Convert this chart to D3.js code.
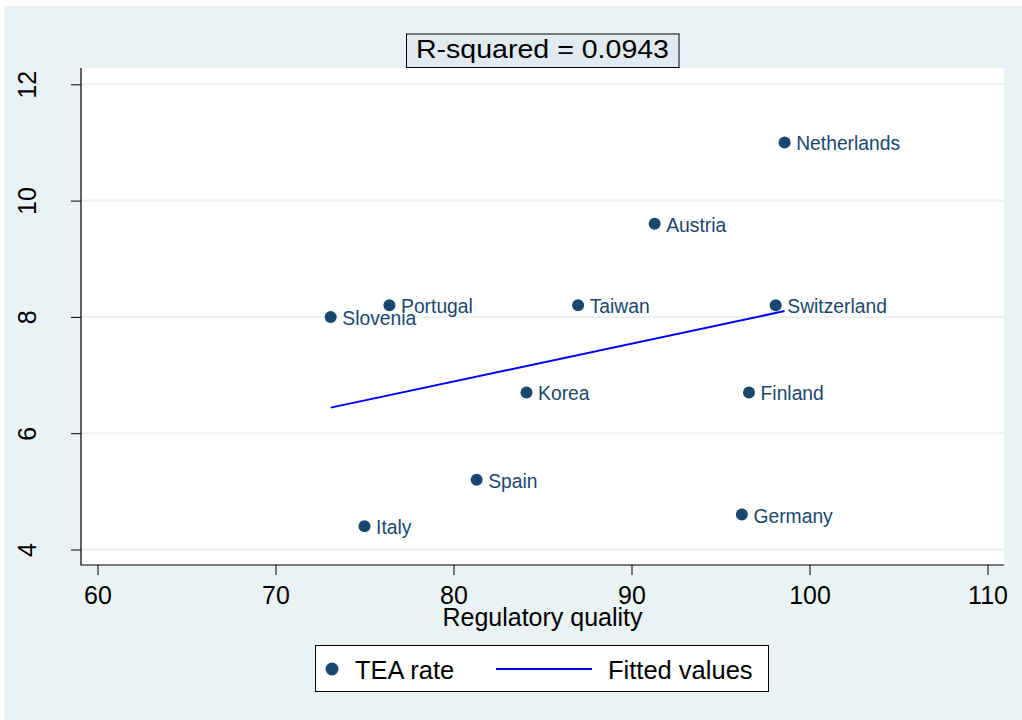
<!DOCTYPE html>
<html>
<head>
<meta charset="utf-8">
<script src="https://cdn.jsdelivr.net/npm/d3@7/dist/d3.min.js"></script>
<style>
  html, body { margin: 0; padding: 0; background: #ffffff; }
  svg { display: block; }
  text { font-family: "Liberation Sans", Arial, Helvetica, sans-serif; }
</style>
</head>
<body>
<svg id="chart" width="1022" height="720"></svg>
<script>
// Country observations: regulatory quality vs. TEA rate
const countries  = ["Netherlands", "Austria", "Portugal", "Taiwan", "Switzerland", "Slovenia", "Korea", "Finland", "Spain", "Germany", "Italy"];
const regQuality = [98.6, 91.3, 76.4, 87.0, 98.1, 73.1, 84.1, 96.6, 81.3, 96.2, 75.0];
const teaRate    = [11.0, 9.6, 8.2, 8.2, 8.2, 8.0, 6.7, 6.7, 5.2, 4.6, 4.4];

// Linear fit endpoints (fitted values at the min and max of x)
const fitX = [73.1, 98.6];
const fitY = [6.44, 8.10];

const xTicks = [60, 70, 80, 90, 100, 110];
const yTicks = [4, 6, 8, 10, 12];
const rSquaredLabel = "R-squared = 0.0943";
const xTitle = "Regulatory quality";
const legendLabels = ["TEA rate", "Fitted values"];

const navy = "#1a476f";
const fitBlue = "#0000ff";
const bg = "#eaf2f3";

const svg = d3.select("#chart");

// Graph region
svg.append("rect")
  .attr("x", 4.5).attr("y", 6).attr("width", 1022 - 4.5).attr("height", 720 - 6)
  .attr("fill", bg);

// Plot region
const plot = { left: 81, right: 1004, top: 68, bottom: 565 };
svg.append("rect")
  .attr("x", plot.left).attr("y", plot.top)
  .attr("width", plot.right - plot.left).attr("height", plot.bottom - plot.top)
  .attr("fill", "#ffffff");

const x = d3.scaleLinear().domain([60, 110]).range([97.5, 987.5]);
const y = d3.scaleLinear().domain([4, 12]).range([549.5, 84.3]);

// Horizontal grid lines
svg.append("g").selectAll("line").data(yTicks).join("line")
  .attr("x1", plot.left).attr("x2", plot.right)
  .attr("y1", d => y(d)).attr("y2", d => y(d))
  .attr("stroke", bg).attr("stroke-width", 2);

// X axis
const xAxis = svg.append("g")
  .attr("transform", `translate(0,${plot.bottom})`)
  .call(d3.axisBottom(x).tickValues(xTicks).tickSize(10).tickPadding(11).tickFormat(d3.format("d")));
xAxis.select(".domain").remove();
xAxis.selectAll(".tick line").attr("stroke", "#000").attr("stroke-width", 1);
xAxis.selectAll(".tick text")
  .attr("font-size", 25).attr("fill", "#000")
  .style("font-family", '"Liberation Sans", Arial, sans-serif');

// Y axis
const yAxis = svg.append("g")
  .attr("transform", `translate(${plot.left},0)`)
  .call(d3.axisLeft(y).tickValues(yTicks).tickSize(10).tickFormat(d3.format("d")));
yAxis.select(".domain").remove();
yAxis.selectAll(".tick line").attr("stroke", "#000").attr("stroke-width", 1);
yAxis.selectAll(".tick text")
  .attr("font-size", 25).attr("fill", "#000")
  .attr("text-anchor", "middle")
  .attr("x", null).attr("dy", null)
  .attr("transform", `translate(${35.5 - plot.left},0) rotate(-90)`)
  .style("font-family", '"Liberation Sans", Arial, sans-serif');

// Axis lines
svg.append("line")
  .attr("x1", plot.left).attr("x2", plot.left)
  .attr("y1", plot.top).attr("y2", plot.bottom + 0.5)
  .attr("stroke", "#000").attr("stroke-width", 1.2);
svg.append("line")
  .attr("x1", plot.left).attr("x2", plot.right)
  .attr("y1", plot.bottom).attr("y2", plot.bottom)
  .attr("stroke", "#000").attr("stroke-width", 1.2);

// X axis title
svg.append("text")
  .attr("x", (plot.left + plot.right) / 2).attr("y", 626)
  .attr("text-anchor", "middle").attr("font-size", 25).attr("fill", "#000")
  .text(xTitle);

// Fitted line
svg.append("path")
  .datum(d3.zip(fitX, fitY))
  .attr("d", d3.line().x(d => x(d[0])).y(d => y(d[1])))
  .attr("fill", "none").attr("stroke", fitBlue).attr("stroke-width", 2);

// Points and labels
const obs = countries.map((c, i) => ({ name: c, rq: regQuality[i], tea: teaRate[i] }));
const pts = svg.append("g");
pts.selectAll("circle").data(obs).join("circle")
  .attr("cx", d => x(d.rq)).attr("cy", d => y(d.tea))
  .attr("r", 6).attr("fill", navy);
pts.selectAll("text").data(obs).join("text")
  .attr("x", d => x(d.rq) + 11.6).attr("y", d => y(d.tea) + 8)
  .attr("font-size", 19.3).attr("fill", navy)
  .text(d => d.name);

// R-squared note box
svg.append("rect")
  .attr("x", 406.5).attr("y", 34).attr("width", 272.5).attr("height", 33.5)
  .attr("fill", "#e0eaf0").attr("stroke", "#000").attr("stroke-width", 1);
svg.append("text")
  .attr("x", 542.5).attr("y", 57.7)
  .attr("text-anchor", "middle").attr("font-size", 25).attr("fill", "#000")
  .attr("textLength", 253).attr("lengthAdjust", "spacingAndGlyphs")
  .text(rSquaredLabel);

// Legend
const lg = svg.append("g");
lg.append("rect")
  .attr("x", 315.5).attr("y", 645.5).attr("width", 453).attr("height", 46)
  .attr("fill", "#ffffff").attr("stroke", "#000").attr("stroke-width", 1);
lg.append("circle").attr("cx", 332).attr("cy", 669).attr("r", 6.5).attr("fill", navy);
lg.append("text").attr("x", 355).attr("y", 679).attr("font-size", 25.5).attr("fill", "#000").text(legendLabels[0]);
lg.append("line").attr("x1", 496).attr("x2", 592).attr("y1", 669).attr("y2", 669)
  .attr("stroke", fitBlue).attr("stroke-width", 2);
lg.append("text").attr("x", 608).attr("y", 679).attr("font-size", 25.5).attr("fill", "#000").text(legendLabels[1]);
</script>
</body>
</html>
